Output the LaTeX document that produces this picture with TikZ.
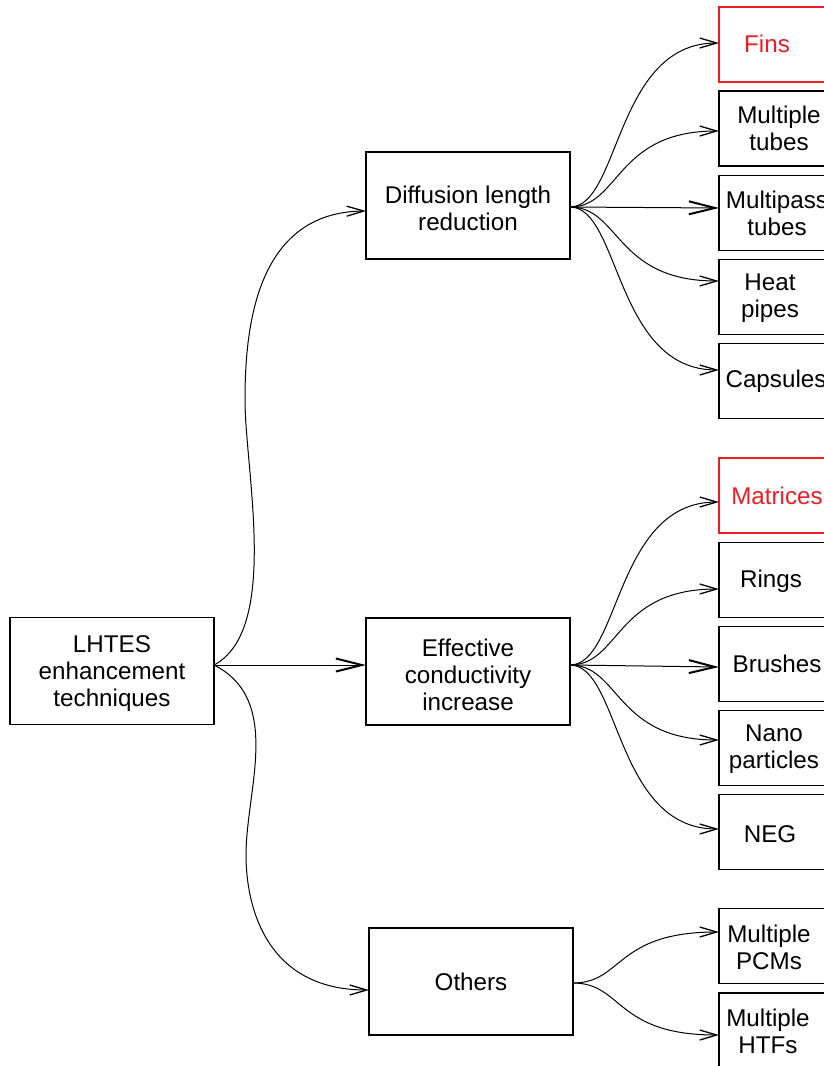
\documentclass[tikz,border=0pt]{standalone}
\usepackage{fontspec}
\setmainfont{Liberation Sans}
\usetikzlibrary{arrows.meta}
\definecolor{redc}{RGB}{237,28,36}
\begin{document}
\begin{tikzpicture}[x=1pt,y=-1pt,
  txt/.style={align=center, font=\fontsize{24.2}{27}\selectfont, inner sep=0pt},
  mbox/.style={draw, line width=1.5pt, outer sep=0pt, inner sep=0pt, minimum width=204pt, minimum height=107pt},
  rbox/.style={draw, line width=1.5pt, outer sep=0pt, inner sep=0pt, minimum width=120pt, minimum height=75pt, anchor=west},
  rbred/.style={rbox, draw=redc},
  conn/.style={line width=1pt, -{Straight Barb[length=17pt,width=10pt,line width=1.3pt]}},
  hconn/.style={line width=1pt, -{Straight Barb[length=26pt,width=13pt,line width=2pt]}},
]
\useasboundingbox (0,0) rectangle (824,1066);

% left and middle boxes
\node[mbox, label={[txt,yshift=-3pt]center:LHTES\\enhancement\\techniques}] (lhtes) at (112,671) {};
\node[mbox, label={[txt,yshift=-3pt]center:Diffusion length\\reduction}] (diff) at (468,205.5) {};
\node[mbox, label={[txt,yshift=-3.5pt]center:Effective\\conductivity\\increase}] (eff) at (468,671.5) {};
\node[mbox, label={[txt]center:Others}] (oth) at (471,981.5) {};

% right boxes
\node[rbred, label={[txt,text=redc,xshift=-12pt,yshift=1pt]center:Fins}] (fins) at (719,44.5) {};
\node[rbox, label={[txt,xshift=0pt]center:Multiple\\tubes}] (tubes) at (719,128.5) {};
\node[rbox, label={[txt,xshift=-2pt]center:Multipass\\tubes}] (mpass) at (719,213) {};
\node[rbox, label={[txt,xshift=-9pt,yshift=-1pt]center:Heat\\pipes}] (heat) at (719,297) {};
\node[rbox, label={[txt,xshift=-3pt]center:Capsules}] (caps) at (719,381) {};

\node[rbred, label={[txt,text=redc,xshift=-2pt]center:Matrices}] (matr) at (719,495.5) {};
\node[rbox, label={[txt,xshift=-8pt,yshift=-1pt]center:Rings}] (rings) at (719,580) {};
\node[rbox, label={[txt,xshift=-2pt]center:Brushes}] (brush) at (719,664) {};
\node[rbox, label={[txt,xshift=-5pt,yshift=-1pt]center:Nano\\particles}] (nano) at (719,748) {};
\node[rbox, label={[txt,xshift=-9pt,yshift=-2pt]center:NEG}] (neg) at (719,832) {};

\node[rbox, label={[txt,xshift=-10pt,yshift=-1pt]center:Multiple\\PCMs}] (pcm) at (719,946) {};
\node[rbox, label={[txt,xshift=-11pt,yshift=-1pt]center:Multiple\\HTFs}] (htf) at (719,1030.5) {};

% connectors from LHTES
\draw[conn] ([yshift=6pt]lhtes.east) .. controls (280,630) and (245,470) .. (245,400)
  .. controls (245,330) and (255,212) .. ([yshift=-5.5pt]diff.west);
\draw[hconn] ([yshift=6pt]lhtes.east) -- ([yshift=6.5pt]eff.west);
\draw[conn] ([yshift=6pt]lhtes.east) .. controls (283,700) and (246,790) .. (246,855)
  .. controls (246,905) and (265,990) .. ([yshift=-8.5pt]oth.west);

% diffusion fan
\draw[conn] ([yshift=-1.5pt]diff.east) .. controls +(50,0) and +(-104,0) .. ([yshift=1.5pt]fins.west);
\draw[conn] ([yshift=-1.5pt]diff.east) .. controls +(50,0) and +(-104,0) .. ([yshift=-2.5pt]tubes.west);
\draw[hconn] ([yshift=-1.5pt]diff.east) -- ([yshift=5pt]mpass.west);
\draw[conn] ([yshift=-1.5pt]diff.east) .. controls +(50,0) and +(-104,0) .. ([yshift=16pt]heat.west);
\draw[conn] ([yshift=-1.5pt]diff.east) .. controls +(50,0) and +(-104,0) .. ([yshift=11pt]caps.west);

% effective fan
\draw[conn] ([yshift=6.5pt]eff.east) .. controls +(50,0) and +(-104,0) .. ([yshift=-6.5pt]matr.west);
\draw[conn] ([yshift=6.5pt]eff.east) .. controls +(50,0) and +(-104,0) .. ([yshift=-9pt]rings.west);
\draw[hconn] ([yshift=6.5pt]eff.east) -- ([yshift=-3pt]brush.west);
\draw[conn] ([yshift=6.5pt]eff.east) .. controls +(50,0) and +(-104,0) .. ([yshift=8pt]nano.west);
\draw[conn] ([yshift=6.5pt]eff.east) .. controls +(50,0) and +(-104,0) .. ([yshift=3pt]neg.west);

% others fan
\draw[conn] ([yshift=-1.5pt]oth.east) .. controls +(50,0) and +(-104,0) .. ([yshift=14pt]pcm.west);
\draw[conn] ([yshift=-1.5pt]oth.east) .. controls +(50,0) and +(-104,0) .. ([yshift=-4.5pt]htf.west);
\end{tikzpicture}
\end{document}
